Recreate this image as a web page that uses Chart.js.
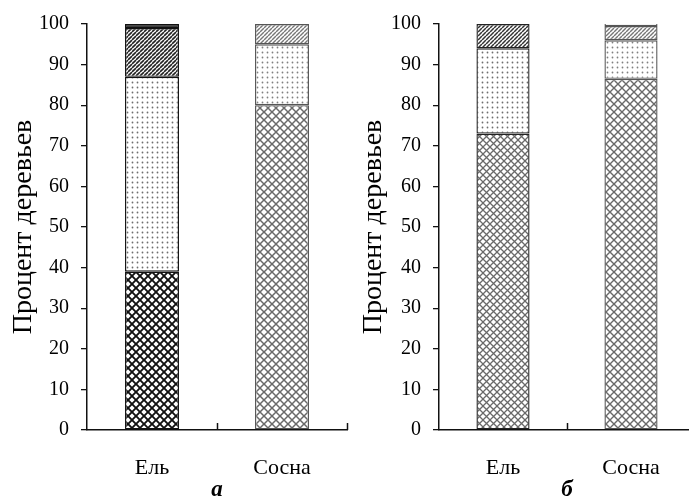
<!DOCTYPE html>
<html>
<head>
<meta charset="utf-8">
<script src="https://cdn.jsdelivr.net/npm/chart.js@4/dist/chart.umd.min.js"></script>
<style>
    html, body { margin: 0; padding: 0; background: #fff; overflow: hidden; }
    body { width: 689px; height: 504px; position: relative; }
    canvas { position: absolute; top: 0; }
    #chartA { left: 0; }
    #chartB { left: 350px; }
</style>
</head>
<body>
<canvas id="chartA" width="350" height="504"></canvas>
<canvas id="chartB" width="350" height="504"></canvas>
<script>
// categories and values (percent of trees), bottom layer first
const categories = ['Ель', 'Сосна'];
const yMin = 0, yMax = 100, yStep = 10;

const aCrossHatch = [39, 80];
const aDots = [48, 15];
const aLines = [12, 5];
const aTop = [1, 0];

const bCrossHatch = [73, 86.5];
const bDots = [21, 9.5];
const bLines = [6, 3.5];
const bTop = [0, 1];

const serif = "'Liberation Serif', 'DejaVu Serif', serif";

// pattern tiles
function tile(size, draw) {
    const c = document.createElement('canvas');
    c.width = size; c.height = size;
    const ctx = c.getContext('2d');
    ctx.fillStyle = '#fff';
    ctx.fillRect(0, 0, size, size);
    draw(ctx, size);
    return ctx.createPattern(c, 'repeat');
}

function cross(size, color, lw) {
    return tile(size, (ctx, s) => {
        ctx.strokeStyle = color;
        ctx.lineWidth = lw;
        for (let k = -1; k <= 1; k++) {
            ctx.beginPath();
            ctx.moveTo(k * s, 0); ctx.lineTo(k * s + s, s);
            ctx.moveTo(k * s, s); ctx.lineTo(k * s + s, 0);
            ctx.stroke();
        }
    });
}

function hatch(size, color, lw) {
    return tile(size, (ctx, s) => {
        ctx.strokeStyle = color;
        ctx.lineWidth = lw;
        for (let k = -1; k <= 1; k++) {
            ctx.beginPath();
            ctx.moveTo(k * s, s); ctx.lineTo(k * s + s, 0);
            ctx.stroke();
        }
    });
}

function dots(size, color, r) {
    return tile(size, (ctx, s) => {
        ctx.fillStyle = color;
        ctx.beginPath();
        ctx.arc(s / 2, s / 2, r, 0, Math.PI * 2);
        ctx.fill();
    });
}

// small upward marks on the x axis at category boundaries
const boundaryTicks = {
    id: 'boundaryTicks',
    afterDatasetsDraw(chart) {
        const x = chart.scales.x;
        const ctx = chart.ctx;
        ctx.save();
        ctx.strokeStyle = '#111';
        ctx.lineWidth = 1.5;
        for (let i = 0; i < categories.length; i++) {
            const px = Math.round(x.getPixelForValue(i + 0.5)) + 0.5;
            ctx.beginPath();
            ctx.moveTo(px, x.top);
            ctx.lineTo(px, x.top - 7);
            ctx.stroke();
        }
        ctx.restore();
    }
};

function makeChart(id, layers, fills, borders, subLabel, yWidth, padTop, padRight) {
    const datasets = layers.map((data, i) => ({
        data: data,
        backgroundColor: fills[i],
        borderColor: borders,
        borderWidth: 1.4,
        borderSkipped: false,
        barPercentage: 0.415,
        categoryPercentage: 1.0
    }));

    return new Chart(document.getElementById(id), {
        type: 'bar',
        data: { labels: categories, datasets: datasets },
        plugins: [boundaryTicks],
        options: {
            responsive: false,
            animation: false,
            layout: { padding: { left: 0, top: padTop, right: padRight, bottom: 0 } },
            plugins: { legend: { display: false }, tooltip: { enabled: false } },
            scales: {
                x: {
                    stacked: true,
                    grid: { display: false },
                    border: { display: true, color: '#111', width: 1.5 },
                    ticks: { color: '#000', padding: 17, font: { family: serif, size: 22 } },
                    title: {
                        display: true,
                        text: subLabel,
                        color: '#000',
                        padding: 0,
                        font: { family: serif, size: 23, style: 'italic', weight: 'bold' }
                    },
                    afterFit(scale) { scale.height = 74; }
                },
                y: {
                    stacked: true,
                    min: yMin,
                    max: yMax,
                    grid: { drawOnChartArea: false, drawTicks: true, tickLength: 6, color: '#111', lineWidth: 1.3 },
                    border: { display: true, color: '#111', width: 1.5 },
                    ticks: { stepSize: yStep, color: '#000', padding: 12, font: { family: serif, size: 20 } },
                    title: {
                        display: true,
                        text: 'Процент деревьев',
                        color: '#000',
                        padding: { top: 7, bottom: 0 },
                        font: { family: serif, size: 28 }
                    },
                    afterFit(scale) { scale.width = yWidth; }
                }
            }
        }
    });
}

makeChart('chartA',
    [aCrossHatch, aDots, aLines, aTop],
    [
        [cross(8, '#111', 1.9), cross(8, '#6a6a6a', 1.5)],
        [dots(5, '#6e6e6e', 0.9), dots(5, '#808080', 0.9)],
        [hatch(4, '#222', 1.6), hatch(4, '#777', 1.4)],
        ['#111', '#fff']
    ],
    ['#111', '#555'],
    'а', 87, 19, 3);

makeChart('chartB',
    [bCrossHatch, bDots, bLines, bTop],
    [
        [cross(7, '#6a6a6a', 1.3), cross(8, '#6a6a6a', 1.4)],
        [dots(5, '#6e6e6e', 0.9), dots(5, '#808080', 0.9)],
        [hatch(4, '#333', 1.5), hatch(4, '#777', 1.4)],
        ['#fff', '#fff']
    ],
    ['#222', '#555'],
    'б', 89, 17, 5);
</script>
</body>
</html>
